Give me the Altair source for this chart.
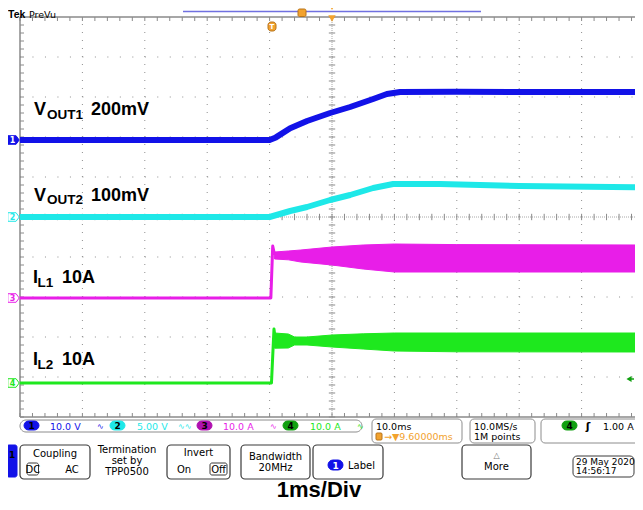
import altair as alt
import pandas as pd
import numpy as np

# ---------------- data: time in ms (1 ms/div), level in divisions (0 = bottom of screen) ----------------
ch1_t = [0, 4.0, 4.1, 4.33, 4.6, 4.97, 5.29, 5.66, 5.88, 6.09, 7.0, 8.5, 10]
ch1_v = [6.925, 6.925, 6.99, 7.22, 7.4, 7.6, 7.75, 7.95, 8.075, 8.125, 8.13, 8.125, 8.125]

ch2_t = [0, 4.0, 4.33, 4.6, 4.97, 5.29, 5.66, 5.98, 6.73, 8.0, 10]
ch2_v = [5.0, 5.0, 5.15, 5.25, 5.425, 5.55, 5.725, 5.825, 5.825, 5.775, 5.74]

ch3_t = [0, 4.02, 4.05, 4.08]
ch3_v = [2.975, 2.975, 4.275, 4.05]
ch3_band_t = [4.08, 4.3, 4.5, 5.0, 5.5, 6.0, 7.0, 10]
ch3_hi = [4.125, 4.15, 4.175, 4.25, 4.3, 4.325, 4.31, 4.3]
ch3_lo = [3.95, 3.93, 3.875, 3.8, 3.7, 3.625, 3.625, 3.625]

ch4_t = [0, 4.03, 4.07, 4.09]
ch4_v = [0.85, 0.85, 2.2, 1.95]
ch4_band_t = [4.08, 4.3, 4.4, 4.6, 5.0, 5.5, 6.0, 7.0, 10]
ch4_hi = [2.1, 2.075, 2.0, 2.0, 2.05, 2.08, 2.1, 2.1, 2.1]
ch4_lo = [1.72, 1.725, 1.8, 1.8, 1.75, 1.7, 1.65, 1.63, 1.625]

ch_names = ["1", "2", "3", "4"]
ch_offsets = [6.925, 5.0, 2.975, 0.85]
trigger_level = 0.95

label_main = ["V", "V", "I", "I"]
label_sub = ["OUT1", "OUT2", "L1", "L2"]
label_scale = ["200mV", "100mV", "10A", "10A"]

BLUE, CYAN, MAG, GRN = "#1212e8", "#1ee8e8", "#e81ee8", "#1ee81e"
ORANGE = "#f2a22e"
GRID = "#8f8f8f"

# ---------------- layout helpers ----------------
DX, DY = 62.4, 40.0        # pixels per division
W, H = 615, 400            # visible part of the graticule (10 x 10 divisions, right edge cut by page)
X0, Y0 = 20, 17            # page position of the graticule's top-left corner
XMAX = W / DX


def tx(X):
    return (X - X0) / DX


def dy(Y):
    return (Y0 + H - Y) / DY


xs = alt.Scale(domain=[0, XMAX], nice=False, zero=False)
ys = alt.Scale(domain=[0, 10], nice=False, zero=False)


def XE(f="t"):
    return alt.X(f"{f}:Q", scale=xs, axis=None)


def YE(f="d"):
    return alt.Y(f"{f}:Q", scale=ys, axis=None)


def rules(df, color, width=1, dash=None):
    kw = dict(color=color, strokeWidth=width)
    if dash:
        kw["strokeDash"] = dash
    return alt.Chart(df).mark_rule(**kw).encode(
        x=XE("t"), x2=alt.X2("t2:Q"), y=YE("d"), y2=alt.Y2("d2:Q"))


def texts(rows, size, weight="normal", align="left", font="DejaVu Sans"):
    df = pd.DataFrame(rows, columns=["X", "Y", "text", "color"])
    df["t"] = df.X.map(tx)
    df["d"] = df.Y.map(dy)
    return alt.Chart(df).mark_text(fontSize=size, fontWeight=weight, align=align,
                                   baseline="alphabetic", font=font).encode(
        x=XE(), y=YE(), text="text:N", color=alt.Color("color:N", scale=None))


def boxes(rows, stroke, fill="white", radius=4, sw=1):
    df = pd.DataFrame(rows, columns=["X1", "Y1", "X2", "Y2"])
    df["t"] = df.X1.map(tx)
    df["t2"] = df.X2.map(tx)
    df["d"] = df.Y1.map(dy)
    df["d2"] = df.Y2.map(dy)
    return alt.Chart(df).mark_rect(fill=fill, stroke=stroke, strokeWidth=sw,
                                   cornerRadius=radius).encode(
        x=XE("t"), x2=alt.X2("t2:Q"), y=YE("d"), y2=alt.Y2("d2:Q"))


layers = []

# ---------------- graticule ----------------
divs = [1, 2, 3, 4, 6, 7, 8, 9]
layers.append(rules(pd.DataFrame({"t": divs, "t2": divs, "d": 0, "d2": 10}), GRID, 1, [1, DY / 5 - 1]))
layers.append(rules(pd.DataFrame({"t": 0, "t2": XMAX, "d": divs, "d2": divs}), GRID, 1, [1, DX / 5 - 1]))
layers.append(rules(pd.DataFrame({"t": [5], "t2": [5], "d": [0], "d2": [10]}), "#a8a8a8", 1, [1, 1]))
layers.append(rules(pd.DataFrame({"t": [0], "t2": [XMAX], "d": [5], "d2": [5]}), "#a8a8a8", 1, [1, 1]))

minor = np.round(np.arange(0, 10.001, 0.2), 3)
tk_x, tk_y = 4 / DX, 4 / DY
tick_rows = []
for m in minor:
    tick_rows += [
        (m, m, 10, 10 - tk_y), (m, m, 0, tk_y),
        (0, tk_x, m, m),
        (5 - tk_x * 0.8, 5 + tk_x * 0.8, m, m), (m, m, 5 - tk_y * 0.8, 5 + tk_y * 0.8),
    ]
layers.append(rules(pd.DataFrame(tick_rows, columns=["t", "t2", "d", "d2"]), "#8a8a8a", 1))
border = pd.DataFrame({"t": [0, 0, 0], "t2": [XMAX, XMAX, 0], "d": [10, 0, 0], "d2": [10, 0, 10]})
layers.append(rules(border, "#8a8a8a", 1.5))

# ---------------- waveforms ----------------
def line(t, v, color, width):
    return alt.Chart(pd.DataFrame({"t": t, "d": v})).mark_line(
        color=color, strokeWidth=width, strokeJoin="round", strokeCap="butt", clip=True).encode(x=XE(), y=YE())


def band(t, hi, lo, color):
    return alt.Chart(pd.DataFrame({"t": t, "d": hi, "d2": lo})).mark_area(
        color=color, opacity=1, stroke=color, strokeWidth=1, clip=True).encode(x=XE(), y=YE("d"), y2=alt.Y2("d2:Q"))


layers.append(line(ch3_t, ch3_v, MAG, 3))
layers.append(band(ch3_band_t, ch3_hi, ch3_lo, MAG))
layers.append(line(ch4_t, ch4_v, GRN, 3))
layers.append(band(ch4_band_t, ch4_hi, ch4_lo, GRN))
layers.append(line(ch2_t, ch2_v, CYAN, 6))
layers.append(line(ch1_t, ch1_v, BLUE, 6))

# ---------------- trace labels ----------------
lab_pos = [(34, 115, 47, 118.5, 91), (34, 200.5, 47, 204, 91), (33, 283, 37.5, 287, 62), (33, 365, 37.5, 369, 62)]
big_rows, sub_rows = [], []
for (xm, ym, xs_, ys_, xsc), m, s, sc in zip(lab_pos, label_main, label_sub, label_scale):
    big_rows += [(xm, ym, m, "black"), (xsc, ym, sc, "black")]
    sub_rows += [(xs_, ys_, s, "black")]
layers.append(texts(big_rows, 18, "bold", font="Liberation Sans"))
layers.append(texts(sub_rows, 13.5, "bold", font="Liberation Sans"))

# ---------------- channel tags on the left + trigger level ----------------
tag_path = "M-1,-0.75 L0.45,-0.75 L1,0 L0.45,0.75 L-1,0.75 Z"
tags = pd.DataFrame({
    "t": [tx(13.5)] * 4, "d": ch_offsets, "name": ch_names,
    "fill": [BLUE, "white", "white", "white"], "stroke": [BLUE, CYAN, MAG, GRN],
    "tcol": ["white", CYAN, MAG, GRN],
})
layers.append(alt.Chart(tags).mark_point(shape=tag_path, size=130, filled=True, strokeWidth=1, opacity=1).encode(
    x=XE(), y=YE(), fill=alt.Fill("fill:N", scale=None), stroke=alt.Stroke("stroke:N", scale=None)))
layers.append(alt.Chart(tags).mark_text(fontSize=8, fontWeight="bold", font="DejaVu Sans", dx=-1, dy=0.5).encode(
    x=XE(), y=YE(), text="name:N", color=alt.Color("tcol:N", scale=None)))
trig = pd.DataFrame({"t": [tx(629)], "d": [trigger_level]})
layers.append(alt.Chart(trig).mark_point(shape="triangle-left", size=35, filled=True, color="#10a010", opacity=1).encode(x=XE(), y=YE()))
layers.append(rules(pd.DataFrame({"t": [tx(629)], "t2": [tx(634)], "d": [trigger_level], "d2": [trigger_level]}), "#10a010", 1.5))

# ---------------- top bar ----------------
layers.append(texts([(8, 17.5, "Tek", "black")], 10.5, "bold", font="Liberation Sans"))
layers.append(texts([(29, 17.5, "PreVu", "black")], 9.5))
layers.append(rules(pd.DataFrame({"t": [tx(183)], "t2": [tx(481)], "d": [dy(11.5)], "d2": [dy(11.5)]}), "#7070e0", 1.5))
layers.append(boxes([(298, 9, 306, 16.5)], "#b8741a", ORANGE, 1.5))
layers.append(boxes([(268, 22, 276, 31)], "#b8741a", ORANGE, 3))
layers.append(texts([(272, 29, "T", "white")], 7, "bold", "center"))
orn = pd.DataFrame({"t": [tx(332), tx(332)], "d": [dy(8), dy(18.5)], "s": [22, 55]})
layers.append(alt.Chart(orn).mark_point(shape="triangle-down", filled=True, color=ORANGE, opacity=1).encode(
    x=XE(), y=YE(), size=alt.Size("s:Q", scale=None)))

# ---------------- status bar ----------------
layers.append(boxes([(20, 420, 362, 432)], "#8c8c8c", "white", 6))
layers.append(boxes([(372, 419, 462, 443), (470, 419, 535, 443), (541, 419, 650, 443)], "#8c8c8c", "white", 4))
pills = [(24, 421, 39, 430, BLUE), (110, 421, 125, 430, CYAN), (197, 421, 212, 430, "#b010b0"),
         (283, 421, 298, 430, "#10a010"), (562, 421, 577, 430, "#10a010")]
for p in pills:
    layers.append(boxes([p[:4]], p[4], p[4], 4.5))
layers.append(texts([(31.5, 429, "1", "black"), (117.5, 429, "2", "black"), (204.5, 429, "3", "black"),
                     (290.5, 429, "4", "black"), (569.5, 429, "4", "black")], 9, "bold", "center"))
layers.append(texts([
    (50, 429.5, "10.0 V", BLUE), (137, 429.5, "5.00 V", CYAN), (223, 429.5, "10.0 A", MAG),
    (310, 429.5, "10.0 A", GRN),
    (376, 429.5, "10.0ms", "black"), (474, 429.5, "10.0MS/s", "black"), (474, 440, "1M points", "black"),
    (603, 429.5, "1.00 A", "black"), (384, 440, "→▼9.60000ms", ORANGE),
], 9.5))
layers.append(texts([(97, 429, "∿", BLUE), (178, 429, "∿∿", CYAN), (270, 429, "∿", MAG), (357, 429, "∿", GRN)], 8))
layers.append(texts([(588, 430, "ʃ", "black")], 11, "bold", "center"))
layers.append(boxes([(376, 433, 382, 440)], "#b8741a", ORANGE, 1))

# ---------------- menu bar ----------------
layers.append(boxes([(7, 445, 17, 477)], BLUE, BLUE, 2))
layers.append(texts([(12, 458, "1", "black")], 9, "bold", "center"))
layers.append(boxes([(20, 445, 90, 479), (167, 445, 230, 479), (241, 445, 310, 479), (313, 445, 383, 479),
                     (462, 445, 531, 479)], "#3a3a3a", "white", 4, 1.2))
layers.append(boxes([(27, 463, 38.5, 475), (210, 463, 227, 475)], "#3a3a3a", "white", 2, 1))
layers.append(boxes([(573, 456, 634, 477)], "#3a3a3a", "white", 4, 1))
layers.append(boxes([(328, 460, 343, 470)], BLUE, BLUE, 5))
layers.append(texts([(335.5, 468.5, "1", "white")], 9, "bold", "center"))
layers.append(texts([
    (55, 457, "Coupling", "black"), (32.8, 473, "DC", "black"), (72, 473, "AC", "black"),
    (127, 453, "Termination", "black"), (127, 463.5, "set by", "black"), (127, 475, "TPP0500", "black"),
    (198.5, 455.5, "Invert", "black"), (184, 473, "On", "black"), (218.5, 473, "Off", "black"),
    (275.5, 460, "Bandwidth", "black"), (275.5, 470.5, "20MHz", "black"),
    (496.5, 470, "More", "black"),
], 10, "normal", "center"))
layers.append(texts([(348, 468.5, "Label", "black")], 10))
layers.append(texts([(576, 465, "29 May 2020", "black"), (576, 474, "14:56:17", "black")], 9))
layers.append(texts([(496.5, 458, "△", "#777777")], 8, "normal", "center"))

# ---------------- footer ----------------
layers.append(texts([(319, 497, "1ms/Div", "black")], 22, "bold", "center", font="Liberation Sans"))

chart = alt.layer(*layers).properties(
    width=W, height=H,
    padding={"left": 12, "top": 9, "right": 0, "bottom": 85},
    autosize=alt.AutoSizeParams(type="none"),
    background="white",
).configure_view(stroke=None)

chart.save("out.html", embed_options={"renderer": "svg", "actions": False})
